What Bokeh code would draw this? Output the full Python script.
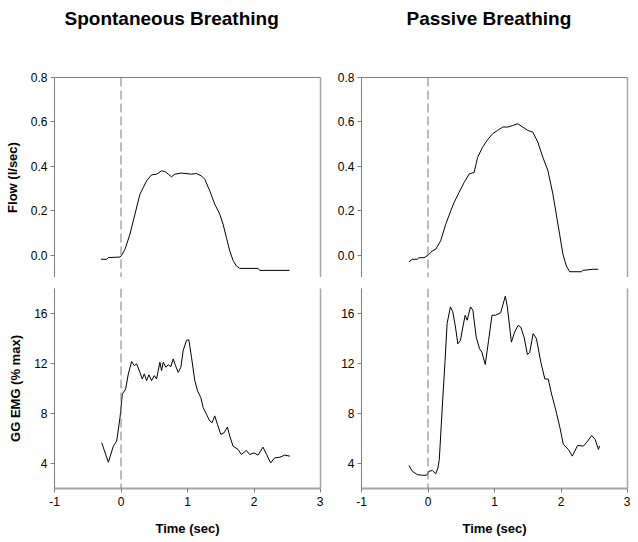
from bokeh.plotting import figure
from bokeh.layouts import row, column
from bokeh.models import Range1d, LinearAxis, FixedTicker, Span, PrintfTickFormatter
from bokeh.core.properties import value
from bokeh.embed import file_html
from bokeh.resources import INLINE

# ---------------- data ----------------
t_flow_spont = [-0.30, -0.215, -0.19, -0.165, -0.015, 0.01, 0.06, 0.135, 0.21, 0.285, 0.335, 0.385,
                0.46, 0.535, 0.61, 0.66, 0.71, 0.76, 0.81, 0.91, 1.06, 1.135, 1.21, 1.26, 1.335,
                1.41, 1.485, 1.535, 1.585, 1.635, 1.685, 1.735, 1.785, 1.985, 2.06, 2.085, 2.535]
flow_spont = [-0.018, -0.018, -0.01, -0.01, -0.008, 0.0, 0.027, 0.095, 0.185, 0.275, 0.305, 0.335,
              0.362, 0.365, 0.38, 0.377, 0.365, 0.353, 0.365, 0.37, 0.365, 0.368, 0.357, 0.342, 0.29,
              0.23, 0.185, 0.14, 0.08, 0.02, -0.023, -0.048, -0.059, -0.059, -0.059, -0.068, -0.068]

t_flow_pass = [-0.287, -0.237, -0.16, -0.136, -0.06, 0.0, 0.065, 0.116, 0.19, 0.267, 0.342, 0.393,
               0.468, 0.544, 0.62, 0.695, 0.745, 0.82, 0.896, 0.972, 1.047, 1.123, 1.198, 1.274,
               1.35, 1.425, 1.50, 1.576, 1.652, 1.727, 1.803, 1.878, 1.929, 1.979, 2.029, 2.08,
               2.13, 2.306, 2.33, 2.48, 2.56]
flow_pass = [-0.030, -0.018, -0.018, -0.011, -0.011, 0.0, 0.02, 0.027, 0.065, 0.14, 0.20, 0.238,
             0.283, 0.328, 0.366, 0.373, 0.44, 0.486, 0.52, 0.547, 0.562, 0.577, 0.577, 0.584,
             0.592, 0.577, 0.562, 0.554, 0.509, 0.441, 0.381, 0.276, 0.185, 0.095, 0.005, -0.048,
             -0.074, -0.074, -0.068, -0.063, -0.063]

t_emg_spont = [-0.29, -0.19, -0.115, -0.065, -0.015, 0.02, 0.07, 0.11, 0.16, 0.2, 0.235, 0.285,
               0.32, 0.35, 0.385, 0.42, 0.46, 0.5, 0.535, 0.585, 0.61, 0.635, 0.675, 0.71, 0.75,
               0.785, 0.82, 0.86, 0.9, 0.935, 0.985, 1.02, 1.06, 1.11, 1.15, 1.2, 1.235, 1.285,
               1.335, 1.37, 1.41, 1.45, 1.5, 1.55, 1.6, 1.635, 1.685, 1.76, 1.81, 1.885, 1.935,
               2.0, 2.06, 2.135, 2.19, 2.25, 2.31, 2.39, 2.46, 2.54]
emg_spont = [5.66, 4.1, 5.39, 5.8, 7.67, 9.55, 9.96, 11.17, 12.16, 11.83, 11.97, 11.29,
             10.76, 11.17, 10.63, 11.1, 10.63, 11.03, 10.76, 12.1, 11.43, 12.1, 11.7, 11.9, 11.75,
             12.37, 11.83, 11.29, 11.7, 13.04, 13.85, 13.9, 12.5, 10.63, 9.82, 9.28, 8.48, 7.94,
             7.4, 7.27, 7.81, 7.14, 6.33, 6.46, 6.92, 6.2, 5.39, 5.13, 4.72, 5.05, 4.72,
             4.85, 4.67, 5.31, 4.72, 4.05, 4.45, 4.5, 4.67, 4.59]

t_emg_pass = [-0.286, -0.236, -0.16, -0.085, -0.02, 0.015, 0.065, 0.116, 0.15, 0.17, 0.22, 0.257,
              0.287, 0.337, 0.373, 0.413, 0.449, 0.488, 0.524, 0.559, 0.589, 0.639, 0.675, 0.725,
              0.775, 0.811, 0.861, 0.911, 0.962, 1.012, 1.092, 1.163, 1.193, 1.254, 1.304, 1.354,
              1.394, 1.445, 1.495, 1.53, 1.581, 1.631, 1.697, 1.757, 1.808, 1.858, 1.918, 1.984,
              2.035, 2.11, 2.17, 2.25, 2.337, 2.402, 2.462, 2.513, 2.563, 2.58]
emg_pass = [3.84, 3.38, 3.11, 3.06, 3.06, 3.38, 3.44, 3.17, 3.65, 4.32, 9.0, 12.24,
            15.19, 16.53, 16.13, 14.92, 13.58, 13.85, 14.92, 15.86, 15.46, 16.53, 16.26, 14.11,
            13.18, 12.9, 11.92, 13.85, 15.86, 15.86, 16.05, 17.39, 16.53, 13.71, 14.52, 15.05,
            14.92, 14.11, 12.72, 12.9, 14.39, 13.98, 12.1, 10.76, 10.76, 9.56, 8.35, 6.87,
            5.53, 5.13, 4.59, 5.45, 5.39, 5.8, 6.25, 5.93, 5.13, 5.4]

titles = ["Spontaneous Breathing", "Passive Breathing"]
flow_ticks = [0.0, 0.2, 0.4, 0.6, 0.8]
emg_ticks = [4, 8, 12, 16]
time_ticks = [-1, 0, 1, 2, 3]

FONT = "Liberation Sans"
AX_DARK = "#7f7f7f"
AX_LIGHT = "#a6a6a6"
FW, FH = 266, 200


def style_y(ax, ticks, fmt=None, label=None):
    ax.ticker = FixedTicker(ticks=ticks)
    if fmt:
        ax.formatter = PrintfTickFormatter(format=fmt)
    ax.axis_line_color = AX_DARK
    ax.major_tick_line_color = AX_DARK
    ax.major_tick_out = 4
    ax.major_tick_in = 0
    ax.minor_tick_line_color = None
    ax.major_label_text_font = FONT
    ax.major_label_text_font_size = "12px"
    ax.major_label_text_color = "black"
    ax.major_label_standoff = 3
    if label:
        ax.axis_label = label
        ax.axis_label_text_font = FONT
        ax.axis_label_text_font_size = "13px"
        ax.axis_label_text_font_style = "bold"
        ax.axis_label_text_color = "black"
        ax.axis_label_standoff = 8


def blank_axis(color, width):
    return LinearAxis(ticker=FixedTicker(ticks=[]), axis_line_color=color, axis_line_width=width,
                      major_tick_line_color=None, minor_tick_line_color=None,
                      major_tick_out=0, major_tick_in=0, major_label_standoff=0,
                      axis_label_standoff=0, major_label_text_font_size="0px")


def make_title(text, first, x):
    # frame spans exactly the plot frame below; x is in pixels from the frame's left edge
    p = figure(frame_width=FW, frame_height=40, output_backend="svg", toolbar_location=None,
               x_range=Range1d(0, FW), y_range=Range1d(0, 40),
               x_axis_location=None, y_axis_location=None,
               min_border_left=(54 if first else 38), min_border_right=3,
               min_border_top=0, min_border_bottom=0)
    p.outline_line_color = None
    p.xgrid.visible = False
    p.ygrid.visible = False
    p.text(x=[x], y=[22], text=[text], text_font=value(FONT), text_font_size="19px",
           text_font_style="bold", text_color="black", text_align="left", text_baseline="middle")
    return p


def make_top(t, y, first):
    p = figure(frame_width=FW, frame_height=FH, output_backend="svg", toolbar_location=None,
               x_range=Range1d(-1, 3), y_range=Range1d(-0.1, 0.8), x_axis_location=None,
               min_border_left=(54 if first else 38), min_border_right=3,
               min_border_top=37, min_border_bottom=0)
    p.outline_line_color = None
    p.xgrid.visible = False
    p.ygrid.visible = False
    style_y(p.yaxis[0], flow_ticks, "%.1f", "Flow (l/sec)" if first else None)
    p.add_layout(blank_axis(AX_DARK, 1), "above")
    p.add_layout(blank_axis(AX_LIGHT, 1.5), "right")
    p.add_layout(Span(location=0, dimension="height", line_color="#7a7a7a", line_dash="9 4", line_width=1))
    p.line(t, y, line_color="black", line_width=1)
    return p


def make_bottom(t, y, first, xr):
    p = figure(frame_width=FW, frame_height=FH, output_backend="svg", toolbar_location=None,
               x_range=xr, y_range=Range1d(2, 18),
               min_border_left=(54 if first else 38), min_border_right=3,
               min_border_top=11, min_border_bottom=0)
    p.outline_line_color = None
    p.xgrid.visible = False
    p.ygrid.visible = False
    style_y(p.yaxis[0], emg_ticks, None, "GG EMG (% max)" if first else None)
    xa = p.xaxis[0]
    xa.ticker = FixedTicker(ticks=time_ticks)
    xa.axis_line_color = AX_LIGHT
    xa.axis_line_width = 2
    xa.major_tick_line_color = AX_DARK
    xa.major_tick_out = 4
    xa.major_tick_in = 0
    xa.minor_tick_line_color = None
    xa.major_label_text_font = FONT
    xa.major_label_text_font_size = "12px"
    xa.major_label_text_color = "black"
    xa.major_label_standoff = 4
    xa.major_label_overrides = {-1: "-1"}
    xa.axis_label = "Time (sec)"
    xa.axis_label_text_font = FONT
    xa.axis_label_text_font_size = "13px"
    xa.axis_label_text_font_style = "bold"
    xa.axis_label_text_color = "black"
    xa.axis_label_standoff = 12
    p.add_layout(blank_axis(AX_LIGHT, 1.5), "right")
    p.add_layout(Span(location=0, dimension="height", line_color="#7a7a7a", line_dash="9 4", line_width=1))
    p.line(t, y, line_color="black", line_width=1)
    return p


t1 = make_title(titles[0], True, 10)
p1 = make_top(t_flow_spont, flow_spont, True)
p2 = make_bottom(t_emg_spont, emg_spont, True, p1.x_range)
t3 = make_title(titles[1], False, 45)
p3 = make_top(t_flow_pass, flow_pass, False)
p4 = make_bottom(t_emg_pass, emg_pass, False, p3.x_range)

layout = row(column(t1, p1, p2), column(t3, p3, p4))

open("out.html", "w").write(file_html(layout, INLINE))
